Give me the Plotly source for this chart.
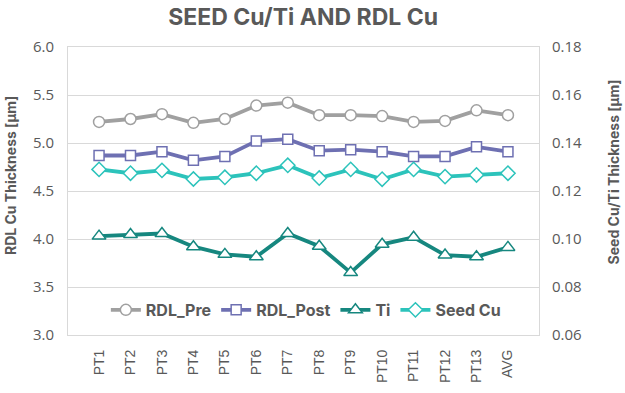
import plotly.graph_objects as go

categories = ["PT1", "PT2", "PT3", "PT4", "PT5", "PT6", "PT7", "PT8", "PT9", "PT10", "PT11", "PT12", "PT13", "AVG"]
rdl_pre = [5.22, 5.25, 5.30, 5.21, 5.25, 5.39, 5.42, 5.29, 5.29, 5.28, 5.22, 5.23, 5.34, 5.29]
rdl_post = [4.87, 4.87, 4.91, 4.82, 4.86, 5.02, 5.04, 4.92, 4.93, 4.91, 4.86, 4.86, 4.96, 4.91]
ti = [0.1012, 0.1019, 0.1023, 0.0968, 0.0936, 0.0926, 0.1023, 0.0970, 0.0860, 0.0978, 0.1007, 0.0933, 0.0926, 0.0965]
seed_cu = [0.1290, 0.1274, 0.1286, 0.1250, 0.1257, 0.1274, 0.1307, 0.1254, 0.1290, 0.1249, 0.1290, 0.1260, 0.1267, 0.1274]

TXT = "#595959"
GRID = "#d9d9d9"
TITLE_FONT = "Inter"
TICK_FONT = "Open Sans"

fig = go.Figure()

def add(name, y, color, symbol, size, axis):
    fig.add_trace(go.Scatter(
        x=categories, y=y, name=name, mode="lines+markers", yaxis=axis,
        line=dict(color=color, width=3.8),
        marker=dict(symbol=symbol, size=size, color="white", line=dict(color=color, width=1.5)),
    ))

add("RDL_Pre", rdl_pre, "#a0a0a0", "circle", 11, "y")
add("RDL_Post", rdl_post, "#6e70b2", "square", 10, "y")
add("Ti", ti, "#16877f", "triangle-up", 12, "y2")
add("Seed Cu", seed_cu, "#2cc3bb", "diamond", 11, "y2")

fig.update_layout(
    width=625, height=393,
    margin=dict(l=68, r=86, t=47, b=58),
    paper_bgcolor="white", plot_bgcolor="white",
    title=dict(text="<b>SEED Cu/Ti AND RDL Cu</b>", x=0.485, xanchor="center", y=0.958, yanchor="middle",
               font=dict(family=TITLE_FONT, size=23, color=TXT)),
    showlegend=True,
    legend=dict(orientation="h", x=0.505, xanchor="center", y=0.087, yanchor="middle",
                font=dict(family=TITLE_FONT, size=16, color=TXT, weight="bold"),
                bgcolor="rgba(255,255,255,0)", itemwidth=30, tracegroupgap=0),
    xaxis=dict(type="category", tickangle=-90, showgrid=False, ticks="", automargin=False,
               showline=True, linecolor=GRID, linewidth=1, mirror=True, ticklabelstandoff=8,
               tickfont=dict(family="Liberation Sans", size=14, color=TXT)),
    yaxis=dict(range=[3.0, 6.0], dtick=0.5, tickformat=".1f", showgrid=True, gridcolor=GRID, gridwidth=1,
               showline=True, linecolor=GRID, linewidth=1, mirror=True, zeroline=False, automargin=False,
               tickfont=dict(family=TICK_FONT, size=15, color=TXT), ticks="", ticklabelstandoff=10),
    yaxis2=dict(range=[0.06, 0.18], dtick=0.02, tickformat=".2f", overlaying="y", side="right",
                showgrid=False, zeroline=False, showline=False, automargin=False,
                tickfont=dict(family=TICK_FONT, size=15, color=TXT), ticks="", ticklabelstandoff=12),
    annotations=[
        dict(text="<b>RDL Cu Thickness [μm]</b>", xref="paper", yref="paper",
             x=-0.123, y=0.5, xanchor="center", yanchor="middle", textangle=-90, showarrow=False,
             yshift=15, font=dict(family=TITLE_FONT, size=14, color=TXT)),
        dict(text="<b>Seed Cu/Ti Thickness [μm]</b>", xref="paper", yref="paper",
             x=1.158, y=0.5, xanchor="center", yanchor="middle", textangle=-90, showarrow=False,
             yshift=19, font=dict(family=TITLE_FONT, size=14, color=TXT)),
    ],
)

fig.write_html("out.html", config={"displayModeBar": False},
               post_script="document.body.style.margin='0';")
